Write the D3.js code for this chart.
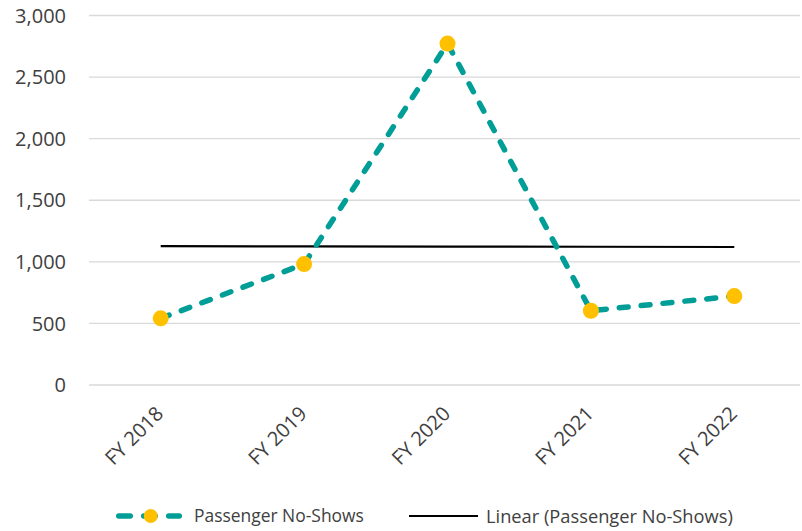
<!DOCTYPE html>
<html><head><meta charset="utf-8">
<script src="https://cdn.jsdelivr.net/npm/d3@7"></script>
<style>body{margin:0;background:#fff}svg{display:block}text{font-family:"Open Sans",sans-serif;fill:#404040}</style>
</head><body>
<svg id="c" width="802" height="531"></svg>
<script>
const categories = ["FY 2018","FY 2019","FY 2020","FY 2021","FY 2022"];
const noShows = [541, 982, 2772, 603, 722];
const yTicks = [0, 500, 1000, 1500, 2000, 2500, 3000];
const seriesName = "Passenger No-Shows";
const trendName = "Linear (Passenger No-Shows)";

const svg = d3.select("#c");
const x = d3.scaleBand().domain(categories).range([89, 806]);
const y = d3.scaleLinear().domain([0, 3000]).range([385, 15.5]);
const cx = d => x(d) + x.bandwidth()/2;

// fit text to a target width
function fit(sel, w) {
  sel.each(function(){
    const len = this.getComputedTextLength();
    const fs = parseFloat(d3.select(this).attr("font-size"));
    d3.select(this).attr("font-size", fs * w / len);
  });
}

// gridlines
svg.append("g").selectAll("line").data(yTicks).join("line")
  .attr("x1", 89).attr("x2", 800).attr("y1", d=>y(d)).attr("y2", d=>y(d))
  .attr("stroke", "#d9d9d9").attr("stroke-width", 1.3);

// y labels
const fmt = d3.format(",");
svg.append("g").selectAll("text").data(yTicks).join("text")
  .attr("x", 66).attr("y", d=>y(d)).attr("dy", "0.36em")
  .attr("text-anchor", "end").attr("font-size", 20).text(d=>fmt(d));

// x labels
svg.append("g").selectAll("text").data(categories).join("text")
  .attr("transform", d=>`translate(${cx(d)+4},${415}) rotate(-45)`)
  .attr("text-anchor", "end").attr("font-size", 20).text(d=>d);

// trend line (linear regression)
const n = noShows.length;
const xs = d3.range(1, n+1);
const mx = d3.mean(xs), my = d3.mean(noShows);
const slope = d3.sum(xs.map((v,i)=>(v-mx)*(noShows[i]-my))) / d3.sum(xs.map(v=>(v-mx)**2));
const icpt = my - slope*mx;
const trend = xs.map(v => icpt + slope*v);
svg.append("path")
  .attr("d", d3.line().x((d,i)=>cx(categories[i])).y(d=>y(d))(trend))
  .attr("fill","none").attr("stroke","#000").attr("stroke-width",2.2);

// series line
svg.append("path")
  .attr("d", d3.line().x((d,i)=>cx(categories[i])).y(d=>y(d))(noShows))
  .attr("fill","none").attr("stroke","#009E96").attr("stroke-width",5.5)
  .attr("stroke-dasharray","9,13").attr("stroke-linecap","round");

svg.append("g").selectAll("circle").data(noShows).join("circle")
  .attr("cx", (d,i)=>cx(categories[i])).attr("cy", d=>y(d)).attr("r", 8)
  .attr("fill", "#FFC000");

// legend
const ly = 516;
svg.append("line").attr("x1",118.75).attr("x2",179.25).attr("y1",ly).attr("y2",ly)
  .attr("stroke","#009E96").attr("stroke-width",5.5).attr("stroke-dasharray","11.5,13.5")
  .attr("stroke-linecap","round");
svg.append("circle").attr("cx",150.7).attr("cy",ly).attr("r",7).attr("fill","#FFC000");
svg.append("text").attr("x",194).attr("y",ly).attr("dy","0.36em").attr("font-size",17).text(seriesName).call(fit, 170);
svg.append("line").attr("x1",409).attr("x2",478).attr("y1",ly).attr("y2",ly)
  .attr("stroke","#000").attr("stroke-width",2.2);
svg.append("text").attr("x",486).attr("y",ly).attr("dy","0.36em").attr("font-size",17).text(trendName).call(fit, 247);
</script>
</body></html>
